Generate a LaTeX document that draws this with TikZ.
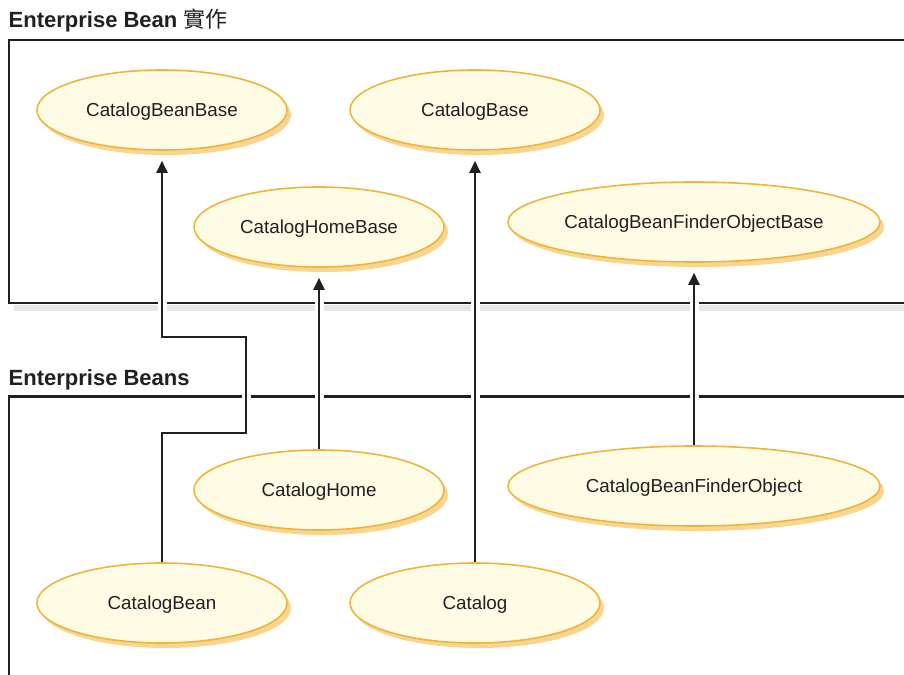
\documentclass[tikz,border=0pt]{standalone}
\usepackage{fontspec}
\setmainfont{Liberation Sans}
\newfontfamily\cjkfont{Noto Sans CJK TC}
\usetikzlibrary{shapes.geometric,shadows,arrows.meta,backgrounds}
\definecolor{ink}{HTML}{231F20}
\definecolor{beanfill}{HTML}{FFFCE6}
\definecolor{beanedge}{HTML}{EFB43C}
\definecolor{beanshade}{HTML}{F8D690}
\definecolor{bandgray}{HTML}{E6E7E8}

\begin{document}
\begin{tikzpicture}[x=1pt,y=-1pt,
  bean/.style={ellipse, draw=beanedge, line width=1.6pt, fill=beanfill,
    minimum height=80pt, inner sep=0pt, text=ink,
    text height=13.5pt, text depth=0pt,
    font=\fontsize{18.8}{22}\selectfont,
    drop shadow={shadow xshift=4pt, shadow yshift=-5pt, fill=beanshade, opacity=1}},
  narrow/.style={bean, minimum width=250pt},
  wide/.style={bean, minimum width=372pt},
  frame/.style={draw=ink, line width=2.2pt},
  heading/.style={anchor=base west, inner sep=0pt, text=ink,
    font=\fontsize{22}{26}\selectfont\bfseries},
  inherit/.style={draw=ink, line width=2pt, shorten >=10pt,
    -{Triangle[length=12pt,width=11pt]},
    preaction={draw=white, line width=9pt, -}},
]
\useasboundingbox (0,0) rectangle (904,674);

% section headings
\node[heading] (implTitle) at (8.5,27.5) {Enterprise Bean {\cjkfont\mdseries 實作}};
\node[heading] (beansTitle) at (8.5,385) {Enterprise Beans};

% implementation classes
\node[narrow] (beanbase) at (162,110) {CatalogBeanBase};
\node[narrow] (catalogbase) at (475,110) {CatalogBase};
\node[narrow] (homebase) at (319,227) {CatalogHomeBase};
\node[wide] (finderbase) at (694,222) {CatalogBeanFinderObjectBase};

% enterprise beans
\node[narrow] (home) at (319,490) {CatalogHome};
\node[wide] (finder) at (694,486) {CatalogBeanFinderObject};
\node[narrow] (bean) at (162,603) {CatalogBean};
\node[narrow] (catalog) at (475,603) {Catalog};

% bends of the CatalogBean link
\coordinate (jogLow) at (246,433);
\coordinate (jogHigh) at (162,336.7);

\begin{pgfonlayer}{background}
  % group frames
  \draw[frame] (905,40) -- (9,40) -- (9,303.3) -- (905,303.3);
  \fill[bandgray] (14,305) rectangle (905,311);
  \draw[frame] (905,396.5) -- (9,396.5) -- (9,675);
  % inheritance links
  \draw[inherit] (bean.north) |- (jogLow) |- (jogHigh) -- (beanbase.south);
  \draw[inherit] (home.north) -- (homebase.south);
  \draw[inherit] (catalog.north) -- (catalogbase.south);
  \draw[inherit] (finder.north) -- (finderbase.south);
\end{pgfonlayer}
\end{tikzpicture}
\end{document}
